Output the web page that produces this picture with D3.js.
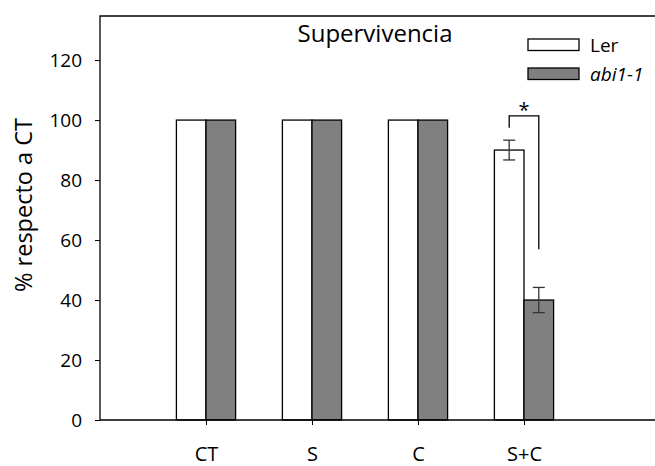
<!DOCTYPE html>
<html>
<head>
<meta charset="utf-8">
<script src="https://cdn.jsdelivr.net/npm/d3@7"></script>
<style>
  body { margin: 0; background: #fff; }
  text { font-family: "Open Sans", sans-serif; fill: #000; }
</style>
</head>
<body>
<svg id="chart" width="655" height="466"></svg>
<script>
// data
const categories = ["CT", "S", "C", "S+C"];
const series = ["Ler", "abi1-1"];
const lerValues = [100, 100, 100, 90];
const abiValues = [100, 100, 100, 40];
const lerErrors = [0, 0, 0, 3.3];
const abiErrors = [0, 0, 0, 4.2];
const yTicks = [0, 20, 40, 60, 80, 100, 120];

const svg = d3.select('#chart');
const plotLeft = 100, plotRight = 655, plotTop = 16, plotBottom = 420;
const barW = 29.6;
const font = '"Open Sans", sans-serif';

const x = d3.scaleLinear().domain([0, 5.236]).range([plotLeft, plotRight]);
const y = d3.scaleLinear().domain([0, 134.7]).range([plotBottom, plotTop]);

const fills = ["#ffffff", "#808080"];
const values = [lerValues, abiValues];
const errors = [lerErrors, abiErrors];

// bars
series.forEach((s, si) => {
    svg.append('g')
        .selectAll('rect')
        .data(categories)
        .join('rect')
        .attr('x', (d, i) => si === 0 ? x(i + 1) - barW : x(i + 1))
        .attr('y', (d, i) => y(values[si][i]))
        .attr('width', barW)
        .attr('height', (d, i) => y(0) - y(values[si][i]))
        .attr('fill', fills[si])
        .attr('stroke', '#000')
        .attr('stroke-width', 1.3);
});

// error bars
series.forEach((s, si) => {
    const g = svg.append('g').attr('stroke', '#333').attr('stroke-width', 1.3);
    categories.forEach((c, i) => {
        const e = errors[si][i];
        if (!e) return;
        const cx = si === 0 ? x(i + 1) - barW / 2 : x(i + 1) + barW / 2;
        const v = values[si][i];
        g.append('line').attr('x1', cx).attr('x2', cx).attr('y1', y(v + e)).attr('y2', y(v - e));
        g.append('line').attr('x1', cx - 6).attr('x2', cx + 6).attr('y1', y(v + e)).attr('y2', y(v + e));
        g.append('line').attr('x1', cx - 6).attr('x2', cx + 6).attr('y1', y(v - e)).attr('y2', y(v - e));
    });
});

// significance bracket on S+C
const bx1 = x(4) - barW / 2, bx2 = x(4) + barW / 2;
svg.append('path')
    .attr('d', d3.line()([[bx1, y(97.4)], [bx1, y(101.4)], [bx2, y(101.4)], [bx2, y(56.9)]]))
    .attr('fill', 'none')
    .attr('stroke', '#000')
    .attr('stroke-width', 1.3);
svg.append('text')
    .attr('x', (bx1 + bx2) / 2)
    .attr('y', y(101.4) + 1)
    .attr('text-anchor', 'middle')
    .style('font-size', '20px')
    .text('*');

// axes
const yAxis = d3.axisLeft(y).tickValues(yTicks).tickSize(5).tickPadding(13);
const gy = svg.append('g').attr('transform', `translate(${plotLeft},0)`).call(yAxis);
gy.select('.domain').remove();
gy.selectAll('text').style('font-size', '19px').style('font-family', font);
gy.selectAll('line').attr('stroke', '#000');

const xAxis = d3.axisBottom(x).tickValues([1, 2, 3, 4])
    .tickFormat(d => categories[d - 1]).tickSize(5).tickPadding(22);
const gx = svg.append('g').attr('transform', `translate(0,${plotBottom})`).call(xAxis);
gx.select('.domain').remove();
gx.selectAll('text').style('font-size', '20px').style('font-family', font);
gx.selectAll('line').attr('stroke', '#000');

// frame lines: left, bottom, top
svg.append('path')
    .attr('d', d3.line()([[plotRight, plotTop], [plotLeft, plotTop], [plotLeft, plotBottom], [plotRight, plotBottom]]))
    .attr('fill', 'none')
    .attr('stroke', '#000')
    .attr('stroke-width', 1.3);

// title
svg.append('text')
    .attr('x', 375)
    .attr('y', 41.5)
    .attr('text-anchor', 'middle')
    .style('font-size', '24px')
    .text('Supervivencia');

// y label
svg.append('text')
    .attr('transform', 'translate(32,205) rotate(-90)')
    .attr('text-anchor', 'middle')
    .style('font-size', '23.5px')
    .text('% respecto a CT');

// legend
const legend = svg.append('g');
series.forEach((s, si) => {
    const ly = 39 + si * 29;
    legend.append('rect')
        .attr('x', 528).attr('y', ly).attr('width', 51).attr('height', 11.5)
        .attr('fill', fills[si]).attr('stroke', '#000').attr('stroke-width', 1.3);
    legend.append('text')
        .attr('x', 590).attr('y', ly + 13)
        .style('font-size', '19px')
        .style('font-style', si === 1 ? 'italic' : 'normal')
        .text(s);
});
</script>
</body>
</html>
